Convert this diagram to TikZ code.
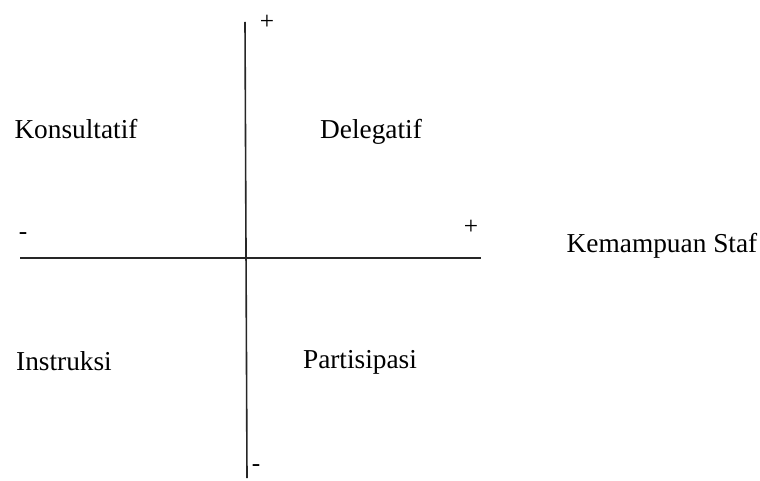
\documentclass[tikz,border=0pt]{standalone}
\usepackage{fontspec}
\setmainfont{Liberation Serif}
\usetikzlibrary{positioning}
\tikzset{
    every node/.style={font=\fontsize{20.5}{22}\selectfont},
    quad/.style={inner sep=0pt,anchor=base},
    sign/.style={inner sep=0pt,font=\fontsize{19}{20}\selectfont},
    axis/.style={draw=black!85,line width=1.2pt}
}
\begin{document}
\begin{tikzpicture}[x=0.75pt,y=-0.75pt]
\useasboundingbox (0,0) rectangle (760,481);
% axes
\coordinate (top) at (245,22);
\coordinate (bottom) at (247,478);
\coordinate (left) at (20,258);
\coordinate (right) at (481,258);
\draw[axis] (top) -- (bottom);
\draw[axis] (left) -- (right);
% signs
\node[sign] (vplus) at (267,22) {+};
\node[sign] (vminus) at (256,468) {-};
\node[sign] (hminus) at (23,236) {-};
\node[sign] (hplus) at (471,227) {+};
% quadrants
\node[quad] (konsultatif) at (76,139) {Konsultatif};
\node[quad] (delegatif) at (371,139) {Delegatif};
\node[quad] (instruksi) at (64,370) {Instruksi};
\node[quad] (partisipasi) at (360,368) {Partisipasi};
\node[quad] (kemampuan) at (662,252) {Kemampuan Staf};
\end{tikzpicture}
\end{document}
